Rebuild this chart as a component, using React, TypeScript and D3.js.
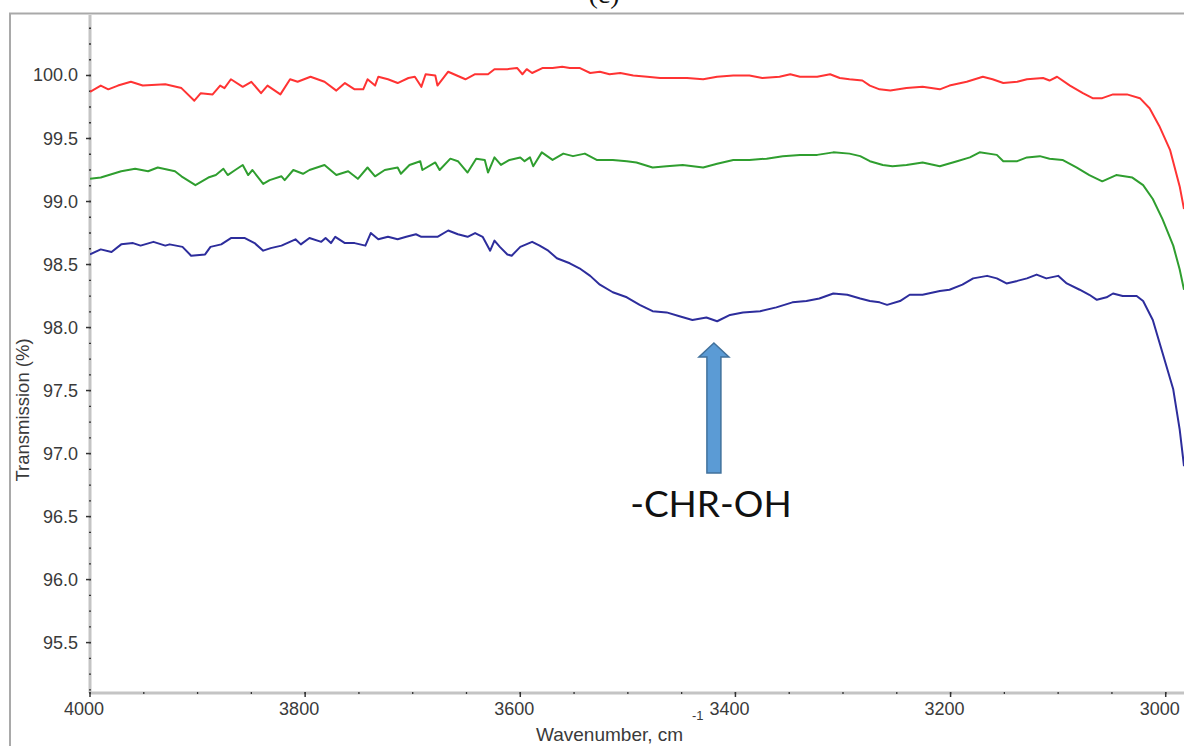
import React from "react";
import * as d3 from "d3";

// ---- data (wavenumber cm^-1, transmission %) ----
const redSeries: [number, number][] = [
  [4000, 99.87], [3990, 99.92], [3983, 99.89], [3974, 99.92], [3962, 99.95], [3951, 99.92],
  [3930, 99.93], [3915, 99.9], [3903, 99.8], [3897, 99.86], [3886, 99.85], [3879, 99.92],
  [3875, 99.9], [3869, 99.97], [3858, 99.91], [3850, 99.95], [3841, 99.86], [3835, 99.92],
  [3823, 99.85], [3814, 99.97], [3807, 99.95], [3795, 99.99], [3782, 99.95], [3771, 99.88],
  [3763, 99.94], [3754, 99.89], [3746, 99.89], [3742, 99.97], [3735, 99.92], [3732, 99.99],
  [3723, 99.97], [3714, 99.94], [3704, 99.98], [3698, 99.99], [3692, 99.91], [3688, 100.01],
  [3679, 100.0], [3677, 99.92], [3667, 100.03], [3651, 99.97], [3642, 100.01], [3630, 100.01],
  [3624, 100.05], [3612, 100.05], [3603, 100.06], [3598, 100.01], [3594, 100.05], [3589, 100.02],
  [3579, 100.06], [3570, 100.06], [3561, 100.07], [3554, 100.06], [3545, 100.06], [3535, 100.02],
  [3526, 100.03], [3517, 100.01], [3507, 100.02], [3495, 100.0], [3482, 99.99], [3470, 99.98],
  [3458, 99.98], [3445, 99.98], [3430, 99.97], [3417, 99.99], [3402, 100.0], [3387, 100.0],
  [3375, 99.98], [3359, 99.99], [3349, 100.01], [3340, 99.99], [3324, 99.99], [3312, 100.01],
  [3303, 99.98], [3294, 99.97], [3282, 99.96], [3275, 99.92], [3266, 99.89], [3256, 99.88],
  [3241, 99.9], [3226, 99.91], [3210, 99.89], [3201, 99.92], [3185, 99.95], [3170, 99.99],
  [3161, 99.97], [3151, 99.94], [3138, 99.95], [3129, 99.97], [3114, 99.98], [3108, 99.96],
  [3101, 99.99], [3089, 99.92], [3077, 99.86], [3068, 99.82], [3059, 99.82], [3049, 99.85],
  [3036, 99.85], [3024, 99.82], [3015, 99.74], [3006, 99.6], [2996, 99.41], [2987, 99.12],
  [2983, 98.94],
];

const greenSeries: [number, number][] = [
  [4000, 99.18], [3990, 99.19], [3971, 99.24], [3958, 99.26], [3946, 99.24], [3937, 99.27],
  [3921, 99.24], [3915, 99.2], [3902, 99.13], [3890, 99.19], [3883, 99.21], [3876, 99.26],
  [3872, 99.21], [3865, 99.25], [3858, 99.29], [3853, 99.21], [3849, 99.25], [3839, 99.14],
  [3833, 99.17], [3822, 99.2], [3819, 99.17], [3811, 99.25], [3802, 99.22], [3796, 99.25],
  [3782, 99.29], [3771, 99.21], [3760, 99.24], [3751, 99.18], [3742, 99.27], [3735, 99.2],
  [3726, 99.25], [3714, 99.27], [3711, 99.22], [3703, 99.29], [3693, 99.32], [3691, 99.25],
  [3679, 99.31], [3675, 99.25], [3665, 99.34], [3658, 99.32], [3649, 99.23], [3641, 99.34],
  [3633, 99.33], [3630, 99.23], [3624, 99.35], [3618, 99.29], [3610, 99.33], [3600, 99.35],
  [3596, 99.32], [3591, 99.35], [3588, 99.28], [3580, 99.39], [3570, 99.33], [3560, 99.38],
  [3551, 99.36], [3540, 99.38], [3529, 99.33], [3514, 99.33], [3501, 99.32], [3492, 99.31],
  [3477, 99.27], [3464, 99.28], [3449, 99.29], [3430, 99.27], [3417, 99.3], [3402, 99.33],
  [3387, 99.33], [3371, 99.34], [3356, 99.36], [3340, 99.37], [3324, 99.37], [3309, 99.39],
  [3294, 99.38], [3284, 99.36], [3275, 99.32], [3263, 99.29], [3254, 99.28], [3241, 99.29],
  [3226, 99.31], [3210, 99.28], [3194, 99.32], [3182, 99.35], [3173, 99.39], [3157, 99.37],
  [3151, 99.32], [3138, 99.32], [3129, 99.35], [3117, 99.36], [3108, 99.34], [3096, 99.33],
  [3083, 99.27], [3071, 99.21], [3059, 99.16], [3046, 99.21], [3031, 99.19], [3021, 99.13],
  [3012, 99.02], [3003, 98.86], [2993, 98.65], [2987, 98.46], [2983, 98.3],
];

const blueSeries: [number, number][] = [
  [4000, 98.58], [3990, 98.62], [3980, 98.6], [3971, 98.66], [3960, 98.67], [3953, 98.65],
  [3941, 98.68], [3930, 98.65], [3926, 98.66], [3914, 98.64], [3906, 98.57], [3893, 98.58],
  [3888, 98.64], [3878, 98.66], [3869, 98.71], [3856, 98.71], [3847, 98.67], [3839, 98.61],
  [3832, 98.63], [3822, 98.65], [3809, 98.7], [3804, 98.66], [3796, 98.71], [3785, 98.68],
  [3781, 98.71], [3776, 98.67], [3772, 98.72], [3763, 98.67], [3754, 98.67], [3744, 98.65],
  [3739, 98.75], [3732, 98.7], [3723, 98.72], [3714, 98.7], [3706, 98.72], [3697, 98.74],
  [3692, 98.72], [3677, 98.72], [3667, 98.77], [3658, 98.74], [3649, 98.72], [3642, 98.75],
  [3635, 98.72], [3628, 98.61], [3624, 98.69], [3619, 98.64], [3612, 98.58], [3608, 98.57],
  [3600, 98.64], [3589, 98.68], [3582, 98.65], [3574, 98.61], [3566, 98.55], [3554, 98.51],
  [3545, 98.47], [3535, 98.41], [3526, 98.34], [3514, 98.28], [3501, 98.24], [3489, 98.18],
  [3477, 98.13], [3464, 98.12], [3452, 98.09], [3440, 98.06], [3427, 98.08], [3417, 98.05],
  [3405, 98.1], [3393, 98.12], [3377, 98.13], [3362, 98.16], [3347, 98.2], [3334, 98.21],
  [3322, 98.23], [3309, 98.27], [3296, 98.26], [3284, 98.23], [3275, 98.21], [3266, 98.2],
  [3259, 98.18], [3247, 98.21], [3238, 98.26], [3226, 98.26], [3210, 98.29], [3201, 98.3],
  [3189, 98.34], [3179, 98.39], [3166, 98.41], [3157, 98.39], [3148, 98.35], [3138, 98.37],
  [3129, 98.39], [3120, 98.42], [3111, 98.39], [3100, 98.41], [3092, 98.35], [3080, 98.3],
  [3071, 98.26], [3064, 98.22], [3055, 98.24], [3049, 98.27], [3040, 98.25], [3027, 98.25],
  [3021, 98.21], [3012, 98.06], [3003, 97.8], [2993, 97.51], [2987, 97.19], [2983, 96.9],
];

const seriesColors = ["#ff3333", "#2f9e2f", "#2d2d9c"];

const xMajorTicks = [4000, 3800, 3600, 3400, 3200, 3000];
const xTickLabels = ["4000", "3800", "3600", "3400", "3200", "3000"];
const yMajorTicks = [95.5, 96.0, 96.5, 97.0, 97.5, 98.0, 98.5, 99.0, 99.5, 100.0];
const yTickLabels = ["95.5", "96.0", "96.5", "97.0", "97.5", "98.0", "98.5", "99.0", "99.5", "100.0"];

const annotationWave = 3420;
const annotationLabel = "-CHR-OH";

export default function App() {
  const W = 1184;
  const H = 746;
  const left = 90, right = 1184, top = 15, bottom = 693;

  const x = d3.scaleLinear().domain([4000, 2983]).range([left, right]);
  const y = d3.scaleLinear().domain([95.1, 100.48]).range([bottom, top]);

  const line = d3
    .line<[number, number]>()
    .x((d) => x(d[0]))
    .y((d) => y(d[1]))
    .curve(d3.curveLinear);

  const xMinor = d3.range(4000, 2983, -50);
  const yMinor = d3.range(95.125, 100.48, 0.125);

  const font = "'Liberation Sans', Arial, sans-serif";
  const tickColor = "#3a3a3a";

  const ax = x(annotationWave);
  const tipY = 343, headBase = 357, shaftBottom = 473;

  return (
    <svg
      width={W}
      height={H}
      style={{ position: "absolute", left: 0, top: 0, background: "#fff" }}
    >
      <defs>
        <clipPath id="plotClip">
          <rect x={left} y={top} width={right - left + 10} height={bottom - top} />
        </clipPath>
      </defs>

      {/* title (cut off at top edge, as in the reference) */}
      <text x={604} y={3} textAnchor="middle" fontFamily="'Liberation Serif', 'Times New Roman', serif" fontSize={28} fill="#111">
        (c)
      </text>

      {/* outer frame */}
      <path d={`M10,${H} L10,13.5 L${W},13.5`} fill="none" stroke="#a9a9a9" strokeWidth={2} />

      {/* axes lines */}
      <line x1={left} x2={left} y1={top} y2={bottom} stroke="#c4c4c4" strokeWidth={3} />
      <line x1={left} x2={right} y1={bottom} y2={bottom} stroke="#c4c4c4" strokeWidth={3} />

      {/* y minor ticks */}
      {yMinor.map((v, i) => (
        <line key={"ym" + i} x1={left - 1} x2={left + 1} y1={y(v)} y2={y(v)} stroke="#333" strokeWidth={1.3} />
      ))}
      {/* y major ticks + labels */}
      {yMajorTicks.map((v, i) => (
        <g key={"yM" + i}>
          <line x1={left - 4} x2={left + 1} y1={y(v)} y2={y(v)} stroke="#333" strokeWidth={1.5} />
          <text x={left - 12} y={y(v) + 6} textAnchor="end" fontFamily={font} fontSize={18} fill={tickColor}>
            {yTickLabels[i]}
          </text>
        </g>
      ))}

      {/* x minor ticks */}
      {xMinor.map((v, i) => (
        <line key={"xm" + i} x1={x(v)} x2={x(v)} y1={bottom - 1} y2={bottom + 1} stroke="#333" strokeWidth={1.3} />
      ))}
      {/* x major ticks + labels */}
      {xMajorTicks.map((v, i) => (
        <g key={"xM" + i}>
          <line x1={x(v)} x2={x(v)} y1={bottom - 1} y2={bottom + 4} stroke="#333" strokeWidth={1.5} />
          <text x={x(v) - 6} y={715} textAnchor="middle" fontFamily={font} fontSize={18} fill={tickColor}>
            {xTickLabels[i]}
          </text>
        </g>
      ))}

      {/* axis titles */}
      <text x={536} y={741} fontFamily={font} fontSize={19} fill={tickColor}>
        Wavenumber, cm
      </text>
      <text x={692} y={720} fontFamily={font} fontSize={13} fill={tickColor}>
        -1
      </text>
      <text
        transform={`translate(29,410) rotate(-90)`}
        textAnchor="middle"
        fontFamily={font}
        fontSize={18.5}
        fill={tickColor}
      >
        Transmission (%)
      </text>

      {/* series */}
      <g clipPath="url(#plotClip)">
        {[redSeries, greenSeries, blueSeries].map((s, i) => (
          <path key={"s" + i} d={line(s) || ""} fill="none" stroke={seriesColors[i]} strokeWidth={2} strokeLinejoin="round" />
        ))}
      </g>

      {/* annotation arrow */}
      <path
        d={`M${ax},${tipY} L${ax + 15},${headBase} L${ax + 7},${headBase} L${ax + 7},${shaftBottom} L${ax - 7},${shaftBottom} L${ax - 7},${headBase} L${ax - 15},${headBase} Z`}
        fill="#5b9bd5"
        stroke="#41719c"
        strokeWidth={1.5}
      />
      <text x={ax - 3} y={517} textAnchor="middle" fontFamily="Lato, 'Open Sans', sans-serif" fontSize={37} fill="#111">
        {annotationLabel}
      </text>
    </svg>
  );
}
